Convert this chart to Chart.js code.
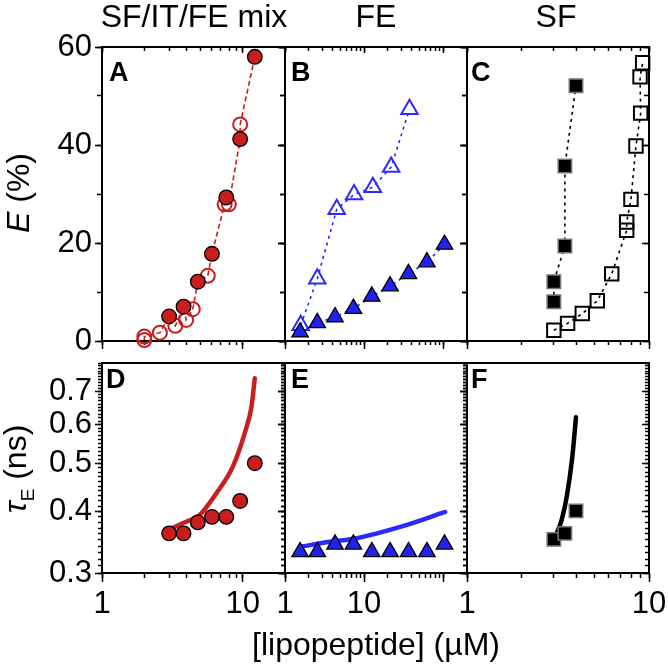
<!DOCTYPE html>
<html><head><meta charset="utf-8">
<script src="https://cdn.jsdelivr.net/npm/chart.js@4.4.0/dist/chart.umd.min.js"></script>
<style>
html,body{margin:0;padding:0;background:#fff;width:668px;height:664px;overflow:hidden;}
#wrap{position:relative;width:668px;height:664px;font-family:"Liberation Sans",Arial,Helvetica,sans-serif;}
canvas{position:absolute;left:0;top:0;}
.t{position:absolute;white-space:nowrap;color:#000;line-height:1;}
.ct{font-size:32px;transform:translateX(-50%);top:0px;}
.pl{font-size:27px;font-weight:bold;}
.rot{font-size:32px;transform:translate(-50%,-50%) rotate(-90deg);}
</style></head><body><div id="wrap">
<canvas id="cA" width="668" height="664"></canvas>
<canvas id="cB" width="668" height="664"></canvas>
<canvas id="cC" width="668" height="664"></canvas>
<canvas id="cD" width="668" height="664"></canvas>
<canvas id="cE" width="668" height="664"></canvas>
<canvas id="cF" width="668" height="664"></canvas>
<div class="t ct" style="left:194px">SF/IT/FE mix</div>
<div class="t ct" style="left:376px">FE</div>
<div class="t ct" style="left:556px">SF</div>
<div class="t pl" style="left:109px;top:59px">A</div>
<div class="t pl" style="left:291px;top:59px">B</div>
<div class="t pl" style="left:471px;top:59px">C</div>
<div class="t pl" style="left:106px;top:366px">D</div>
<div class="t pl" style="left:291px;top:366px">E</div>
<div class="t pl" style="left:471px;top:366px">F</div>
<div class="t rot" style="left:18px;top:193px"><i>E</i> (%)</div>
<div class="t rot" style="left:18px;top:469px"><i>τ</i><sub style="font-size:19px">E</sub> (ns)</div>
<div class="t" style="font-size:32px;left:376px;top:628px;transform:translateX(-50%)">[lipopeptide] (µM)</div>
</div>
<script>
// ---------- data ----------
// Panel A: SF/IT/FE mix, E (%)
const mixFilledX = [3.0, 3.8, 4.8, 6.05, 7.65, 9.6, 12.2];
const mixFilledE = [5.0, 7.0, 12.1, 17.8, 29.3, 41.2, 58.0];
const mixOpenX = [2.0, 2.0, 2.58, 3.32, 3.96, 4.42, 5.65, 7.44, 7.98, 9.6];
const mixOpenE = [0.2, 0.9, 1.7, 3.1, 4.3, 6.5, 13.3, 27.9, 27.9, 44.2];
// Panel B: FE, E (%)
const feOpenX = [1.58, 2.56, 4.51, 7.47, 12.9, 22.0, 37.5];
const feOpenE = [3.2, 12.7, 26.9, 29.9, 31.4, 35.5, 47.3];
const feFilledX = [1.55, 2.56, 4.29, 7.33, 12.5, 21.3, 36.4, 62.2, 104];
const feFilledE = [1.8, 3.7, 4.9, 6.6, 9.1, 11.2, 13.7, 16.1, 19.7];
// Panel C: SF, E (%)
const sfFilledX = [3.0, 3.0, 3.45, 3.45, 3.97];
const sfFilledE = [8.0, 12.1, 19.4, 35.7, 52.1];
const sfOpenX = [3.0, 3.57, 4.3, 5.2, 6.24, 7.54, 7.54, 7.96, 8.48, 9.0, 8.93, 9.23];
const sfOpenE = [2.2, 3.6, 5.6, 8.2, 13.7, 22.6, 24.3, 28.9, 39.8, 46.5, 53.9, 56.8];
// Panel D: mix, tau_E (ns)
const mixTauX = [3.0, 3.8, 4.8, 6.05, 7.65, 9.6, 12.2];
const mixTau = [0.361, 0.361, 0.380, 0.390, 0.390, 0.420, 0.501];
const mixFitX = [3.15, 3.96, 4.93, 6.49, 8.51, 10.33, 11.55, 12.2];
const mixFitTau = [0.370, 0.381, 0.393, 0.435, 0.493, 0.576, 0.652, 0.745];
// Panel E: FE, tau_E (ns)
const feTauX = [1.55, 2.56, 4.29, 7.33, 12.5, 21.3, 36.4, 62.2, 104];
const feTau = [0.331, 0.331, 0.343, 0.343, 0.331, 0.331, 0.331, 0.331, 0.343];
const feFitX = [1.55, 3.7, 8.1, 28.6, 106];
const feFitTau = [0.339, 0.347, 0.353, 0.372, 0.399];
// Panel F: SF, tau_E (ns)
const sfTauX = [3.0, 3.45, 3.97];
const sfTau = [0.351, 0.361, 0.401];
const sfFitX = [3.11, 3.31, 3.53, 3.79, 3.97];
const sfFitTau = [0.361, 0.384, 0.428, 0.516, 0.621];
// tick labels
const xTickLabels = [1, 10];
const eTickLabels = [0, 20, 40, 60];
const tauTickLabels = [0.3, 0.4, 0.5, 0.6, 0.7];

// ---------- helpers ----------
const FONT = '"Liberation Sans", Arial, Helvetica, sans-serif';
const W = 668, H = 664;
const COLS = [[102, 285], [285, 467], [467, 649]];
const ROWS = [[47, 341], [363, 573]];
const RED = '#c81e1e', BLUE = '#2222f0', BLUE2 = '#2a2aff';

const zip = (xs, ys) => xs.map((x, i) => ({x: x, y: ys[i]}));

function logTicks(min, max, majorOnly) {
  const out = [];
  for (let e = -1; e <= 3; e++) {
    for (let m = 1; m < 10; m++) {
      if (majorOnly && m !== 1) continue;
      const v = +(m * Math.pow(10, e)).toPrecision(6);
      if (v >= min - 1e-9 && v <= max + 1e-9) out.push(v);
    }
  }
  return out;
}
function stepTicks(a, b, step, div) {
  const out = [];
  for (let k = a; k <= b; k += step) out.push(k / div);
  return out;
}

function fix(s) {
  if (s.isHorizontal()) s.height = 0; else s.width = 0;
  s.paddingLeft = 0; s.paddingRight = 0; s.paddingTop = 0; s.paddingBottom = 0;
  s._computeLabelArea = function () { return undefined; };
}

function axis(type, position, min, max, vals, len, o) {
  o = o || {};
  const labels = o.labels || [];
  return {
    type: type, position: position, min: min, max: max,
    afterFit: fix,
    afterBuildTicks: s => { s.ticks = vals.map(v => ({value: v})); },
    grid: {display: true, drawOnChartArea: false, drawTicks: len !== 0, tickLength: len,
           tickWidth: 1.5, tickColor: '#000', color: '#000'},
    border: {display: !!o.border, color: '#000', width: 2},
    ticks: {display: labels.length > 0, autoSkip: false, maxRotation: 0, minRotation: 0,
            padding: o.pad || 3, color: '#000', font: {family: FONT, size: 31},
            callback: v => { const m = labels.find(l => Math.abs(l - v) < 1e-9); return m === undefined ? '' : String(m); }}
  };
}

function panel(id, col, row, xMax, datasets, showYLabels) {
  const [l, r] = COLS[col];
  const [t, b] = ROWS[row];
  const xMinor = logTicks(1, xMax, false), xMajor = logTicks(1, xMax, true);
  let yType, yMin, yMax, yMinor, yMajor, yLabels;
  if (row === 0) {
    yType = 'linear'; yMin = 0; yMax = 60;
    yMinor = stepTicks(0, 60, 10, 1); yMajor = eTickLabels; yLabels = eTickLabels;
  } else {
    yType = 'logarithmic'; yMin = 0.3; yMax = 0.8;
    yMinor = stepTicks(30, 80, 1, 100); yMajor = tauTickLabels; yLabels = tauTickLabels;
  }
  const scales = {
    x: axis('logarithmic', 'bottom', 1, xMax, xMajor, row === 0 ? 8 : 9,
            {border: true, labels: row === 1 ? xTickLabels : [], pad: 4}),
    x2: axis('logarithmic', 'bottom', 1, xMax, xMinor, row === 0 ? 4 : 5, {}),
    xt: axis('logarithmic', 'top', 1, xMax, xMajor, row === 0 ? -6 : 0, {border: true}),
    xt2: axis('logarithmic', 'top', 1, xMax, xMinor, row === 0 ? -4 : 0, {}),
    y: axis(yType, 'left', yMin, yMax, yMajor, 7, {border: true, labels: showYLabels ? yLabels : [], pad: 3}),
    y2: axis(yType, 'left', yMin, yMax, yMinor, row === 0 ? 5 : 4, {}),
    yr: axis(yType, 'right', yMin, yMax, yMajor, -7, {border: true}),
    yr2: axis(yType, 'right', yMin, yMax, yMinor, row === 0 ? -5 : -4, {})
  };
  return new Chart(document.getElementById(id), {
    type: 'scatter',
    data: {datasets: datasets.map(d => Object.assign({xAxisID: 'x', yAxisID: 'y', clip: 30}, d))},
    options: {
      responsive: false, animation: false, devicePixelRatio: 1,
      layout: {padding: {left: l, top: t, right: W - r, bottom: H - b}},
      plugins: {legend: {display: false}, tooltip: {enabled: false}},
      scales: scales
    }
  });
}

const lineDs = (pts, color, dash, width) => ({
  data: pts, showLine: true, borderColor: color, borderWidth: width, borderDash: dash,
  pointRadius: 0, fill: false, tension: 0
});
const fitDs = (pts, color) => ({
  data: pts, showLine: true, borderColor: color, borderWidth: 4.5, pointRadius: 0,
  fill: false, cubicInterpolationMode: 'monotone', borderCapStyle: 'round'
});
const markDs = (pts, style, r, bg, bc, bw, extra) => Object.assign({
  data: pts, showLine: false, pointStyle: style, pointRadius: r,
  pointBackgroundColor: bg, pointBorderColor: bc, pointBorderWidth: bw,
  backgroundColor: bg, borderColor: bc
}, extra || {});

// Panel A
const mixAll = zip(mixOpenX, mixOpenE).concat(zip(mixFilledX, mixFilledE))
  .sort((a, b) => (a.x - b.x) || (a.y - b.y));
panel('cA', 0, 0, 20, [
  markDs(zip(mixFilledX, mixFilledE), 'circle', 7.3, RED, '#000', 1.3),
  markDs(zip(mixOpenX, mixOpenE), 'circle', 7, 'rgba(255,255,255,0)', RED, 2),
  lineDs(mixAll, RED, [5, 3], 1.6)
], true);

// Panel B
panel('cB', 1, 0, 200, [
  Object.assign(markDs(zip(feFilledX, feFilledE), 'triangle', 9.5, BLUE, '#000', 1.3),
    {showLine: true, borderColor: BLUE2, borderWidth: 1.6, borderDash: [3, 4]}),
  Object.assign(markDs(zip(feOpenX, feOpenE), 'triangle', 9.5, 'rgba(255,255,255,0)', BLUE2, 2),
    {showLine: true, borderColor: BLUE2, borderWidth: 1.6, borderDash: [3, 4]})
], false);

// Panel C
panel('cC', 2, 0, 10, [
  Object.assign(markDs(zip(sfFilledX, sfFilledE), 'rect', 9.5, '#000', '#777', 1.5),
    {showLine: true, borderColor: '#000', borderWidth: 1.6, borderDash: [3, 4]}),
  Object.assign(markDs(zip(sfOpenX, sfOpenE), 'rect', 9.5, 'rgba(255,255,255,0)', '#000', 2),
    {showLine: true, borderColor: '#000', borderWidth: 1.6, borderDash: [3, 4]})
], false);

// Panel D
panel('cD', 0, 1, 20, [
  markDs(zip(mixTauX, mixTau), 'circle', 7.3, RED, '#000', 1.3),
  fitDs(zip(mixFitX, mixFitTau), RED)
], true);

// Panel E
panel('cE', 1, 1, 200, [
  markDs(zip(feTauX, feTau), 'triangle', 9.5, BLUE, '#000', 1.3),
  fitDs(zip(feFitX, feFitTau), BLUE2)
], false);

// Panel F
panel('cF', 2, 1, 10, [
  markDs(zip(sfTauX, sfTau), 'rect', 9.5, '#000', '#777', 1.5),
  fitDs(zip(sfFitX, sfFitTau), '#000')
], false);
</script>
</body></html>
